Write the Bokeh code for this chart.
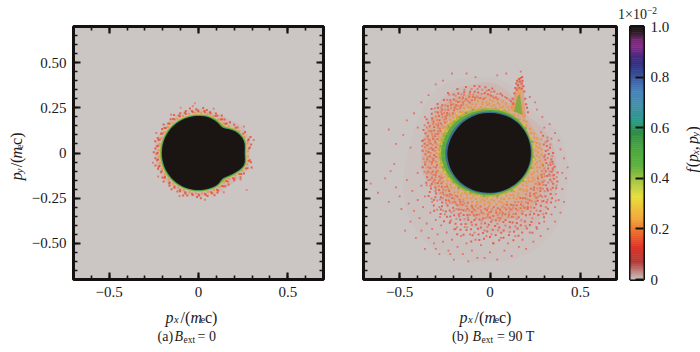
import numpy as np
from bokeh.core.properties import value
from bokeh.embed import file_html
from bokeh.resources import INLINE
from bokeh.plotting import figure
from bokeh.layouts import row, column
from bokeh.models import Range1d, LinearAxis, FixedTicker

# ---- values ----
angles_deg = list(range(0, 360, 15))

# panel (a): contour radius of f at each angle
a_core   = [.258,.262,.238,.196,.200,.205,.205,.205,.205,.205,.205,.205,.205,.205,.205,.205,.205,.205,.205,.205,.205,.196,.226,.262]
a_teal   = [.261,.265,.242,.200,.204,.208,.208,.208,.208,.208,.208,.208,.208,.208,.208,.208,.208,.208,.208,.208,.208,.200,.230,.265]
a_green  = [.265,.270,.248,.207,.210,.213,.212,.212,.212,.213,.213,.214,.214,.214,.214,.213,.212,.212,.212,.212,.212,.207,.236,.270]
a_yellow = [.268,.273,.252,.212,.214,.216,.215,.215,.215,.216,.216,.217,.217,.217,.217,.216,.215,.215,.215,.215,.216,.212,.240,.273]
a_haze   = [.285,.296,.285,.255,.245,.245,.243,.243,.243,.243,.243,.246,.246,.246,.244,.242,.240,.240,.240,.243,.248,.250,.272,.292]

# panel (a): speckle cells, as excess radius over the core and the angles where they sit
a_spk_orange = (.018, [2,11,19,28,41,50,59,68,77,86,95,104,113,122,131,140,149,158,167,176,185,194,203,212,221,230,239,248,257,266,275,284,293,302,311,320,329,338,347,356])
a_spk_red0 = (.024, [5,14,23,34,47,56,65,73,81,90,98,108,117,126,135,143,152,161,170,180,189,198,206,215,225,234,243,251,261,270,279,288,297,306,315,324,333,342,351])
a_spk_red1 = (.030, [6,15,33,46,55,63,74,82,91,99,109,118,127,136,144,153,162,171,181,190,199,207,216,226,235,244,252,262,271,280,289,298,307,316,325,334,343,352])
a_spk_red2 = (.038, [9,24,38,52,66,79,93,107,115,130,147,160,174,187,201,214,228,241,255,268,282,296,309,323,336,350])
a_spk_red3 = (.046, [17,44,58,84,101,123,141,165,179,196,219,233,250,273,291,314,330,345])
a_spk_red4 = (.056, [13,30,71,97,126,155,192,210,246,278,303,328])
a_outliers_x = [-.02, .27, -.10]
a_outliers_y = [.275, -.205, .25]

# panel (b): contour radius of f at each angle
b_core   = [.226,.226,.226,.226,.225,.222,.222,.223,.224,.226,.228,.232,.236,.235,.233,.230,.226,.222,.220,.220,.220,.222,.224,.226]
b_blue   = [.230,.230,.230,.231,.230,.229,.229,.231,.234,.237,.240,.244,.248,.246,.242,.238,.233,.228,.225,.224,.224,.226,.228,.229]
b_green  = [.236,.234,.235,.238,.240,.240,.238,.241,.247,.254,.260,.266,.270,.266,.258,.250,.242,.236,.233,.231,.231,.232,.233,.235]
b_yellow = [.243,.240,.240,.244,.248,.250,.248,.252,.260,.270,.278,.282,.284,.280,.270,.260,.252,.246,.243,.241,.240,.240,.241,.243]
b_wash1  = [.295,.285,.275,.275,.285,.305,.325,.340,.360,.370,.370,.370,.370,.370,.360,.350,.350,.360,.370,.380,.380,.370,.340,.320]
b_wash2  = [.360,.340,.312,.292,.302,.360,.390,.390,.400,.400,.390,.380,.380,.390,.380,.380,.400,.420,.440,.450,.470,.440,.420,.380]
b_wash3  = [.420,.400,.360,.330,.335,.400,.420,.430,.455,.455,.440,.440,.455,.495,.545,.590,.615,.615,.600,.600,.580,.540,.480,.450]

# spike in panel (b): outline points and single cells
spike_red_x    = [.112,.140,.150,.165,.182,.200]
spike_red_y    = [.243,.345,.395,.415,.395,.196]
spike_orange_x = [.122,.148,.168,.192]
spike_orange_y = [.235,.335,.365,.205]
spike_green_x  = [.132,.152,.165,.180]
spike_green_y  = [.230,.312,.325,.212]
spike_cell_x = [.135,.14,.145,.15,.155,.16,.165,.17,.175,.18,.185,.175,.19,.195,.20,.205,.21,.125,.13,.148,.162,.178]
spike_cell_y = [.33,.36,.385,.40,.375,.41,.395,.415,.385,.40,.37,.355,.34,.30,.27,.25,.225,.30,.27,.35,.36,.42]

# panel (b): speckle cells by radius (angles in degrees)
b_orange_rings = [
 (.252,[3,14,26,37,49,58,71,83,96,104,117,129,138,151,163,172,186,197,209,221,232,244,257,266,279,291,302,316,327,341,352]),
 (.259,[8,19,31,44,53,66,77,88,101,111,122,134,145,157,168,179,191,203,214,227,238,249,261,272,284,296,309,321,333,346,357]),
 (.266,[1,12,24,41,62,74,85,93,108,119,127,141,148,159,166,175,183,194,206,217,229,241,253,263,275,287,299,311,324,336,349]),
 (.273,[6,17,47,69,79,91,99,113,124,132,143,153,161,170,178,188,199,211,224,235,247,259,268,281,293,305,318,330,343,355]),
 (.280,[10,52,65,81,94,106,115,126,136,147,155,164,173,181,192,201,213,219,231,243,255,270,283,298,312,326,339,351]),
 (.287,[4,55,72,87,98,110,120,131,140,150,158,167,176,185,196,208,222,236,250,264,277,289,303,315,329,344,358]),
 (.294,[15,60,76,90,103,116,125,135,144,152,162,171,180,190,204,216,228,240,256,269,285,300,314,334,348]),
]
b_red_rings = [
 (.301,[9,64,82,97,112,123,133,146,156,165,174,184,193,207,218,233,246,260,274,288,304,319,332,347,356]),
 (.309,[2,18,68,84,100,109,121,130,142,154,160,169,182,195,205,223,237,251,265,278,292,306,322,337,353]),
 (.317,[7,73,89,105,118,128,139,149,163,177,187,200,212,226,239,252,267,280,294,308,320,335,350]),
 (.325,[12,78,92,107,114,125,137,152,166,175,189,202,215,230,242,254,271,286,297,313,328,342,359]),
 (.333,[5,80,95,110,122,134,147,158,171,183,198,210,225,234,248,262,276,290,301,317,331,345]),
 (.341,[349,86,101,116,129,141,155,168,179,194,206,220,238,253,268,282,295,310,325,338,354]),
 (.349,[0,91,104,119,132,144,160,173,186,203,216,229,245,258,273,284,299,307,323,340,352]),
 (.357,[346,88,108,124,138,151,165,181,197,212,227,241,256,270,287,302,316,330,343]),
 (.365,[94,113,127,142,156,172,190,208,222,236,250,264,279,293,305,320,336,348]),
 (.373,[99,118,135,149,163,178,201,217,231,247,261,275,289,304,315,328,341]),
 (.381,[103,122,139,154,170,192,211,226,243,257,271,283,298,312,327,338]),
 (.389,[110,131,146,161,205,219,235,252,266,281,294,309,322,334,344]),
 (.397,[117,137,152,213,228,240,255,269,286,300,318,331]),
 (.405,[125,143,220,233,246,259,274,288,303,314,326,337]),
 (.415,[215,229,238,251,263,277,291,306,319,332]),
 (.425,[223,236,248,261,272,285,297,311,324]),
 (.435,[231,244,256,268,280,293,308,321]),
 (.445,[226,240,253,265,278,290,301,316]),
 (.455,[236,249,262,274,287,299,313]),
 (.465,[245,258,270,283,296,310]),
 (.475,[252,266,279,292,305]),
 (.485,[248,263,276,289,302]),
 (.500,[258,272,285,298]),
]
b_red_rings2 = [
 (.305,[22,66,86,95,106,119,127,137,150,159,170,178,189,199,211,221,231,241,255,268,283,297,311,326,341,358]),
 (.313,[11,70,87,102,113,124,136,144,157,167,176,186,199,208,217,228,243,258,272,285,300,315,329,344]),
 (.321,[3,75,90,103,116,126,141,154,161,172,185,194,209,220,232,246,261,276,289,303,314,327,339,355]),
 (.329,[15,83,98,111,120,131,143,150,164,180,191,204,218,227,240,256,269,281,293,309,323,337,348]),
 (.337,[8,89,106,117,127,139,152,162,176,188,201,213,224,236,250,264,279,291,306,319,333,351]),
 (.345,[93,109,123,136,148,159,170,184,199,209,222,233,247,260,277,288,302,316,329,343,357]),
 (.353,[97,114,128,140,153,167,178,193,207,219,231,243,255,268,281,296,311,326,339,350]),
 (.361,[101,116,133,146,160,175,188,204,214,224,239,252,266,277,291,303,318,333,345]),
 (.369,[106,121,137,150,168,185,198,215,229,244,258,272,286,299,313,325,340]),
 (.377,[112,129,143,158,174,196,209,223,238,251,263,278,290,307,320,335]),
 (.393,[125,141,157,207,222,237,249,263,276,292,305,317,329,340]),
 (.410,[218,231,243,256,268,282,295,309,321,334]),
 (.430,[227,240,253,266,276,289,303,316,328]),
 (.450,[232,246,259,271,284,296,311,324]),
]
b_yellow_rings = [
 (.270,[118,127,136,146,153,161,170,177,186,194,203,212,222,233]),
 (.285,[130,143,155,168,179,190,200,210]),
 (.246,[240,256,271,288,305,322,338,352,8,22,40,76,95]),
]
b_green_rings = [
 (.258,[112,121,130,139,148,156,165,174,183,192,201,210,219,228]),
 (.241,[245,262,280,300,320,340,355,15,35,50,95,100,238]),
 (.272,[147,160,172,186,197]),
]

b_sparse_x = [-.66,-.62,-.58,-.56,-.55,-.53,-.52,-.50,-.49,-.47,-.46,-.45,-.44,-.43,-.42,-.41,-.40,-.40,-.39,-.38,-.38,-.37,-.36,-.36,-.35,-.34,-.34,-.33,-.32,-.32,-.31,-.30,-.30,-.29,-.28,-.28,-.27,-.26,-.25,-.24,-.23,-.22,-.22,-.21,-.20,-.19,-.18,-.17,-.16,-.15,-.14,-.13,-.12,-.11,-.10,-.08,-.07,-.05,-.03,-.02,.00,.02,.04,.06,.08,.10,.12,.14,.16,.18,.20,.22,.24,.26,.28,.30,.32,.34,.36,.36,.38,.39,.40,.41,.42,.40,.43,.41,.39,-.56,-.52,-.48,-.46,-.44,-.42,-.40,-.38,-.37,-.36,-.34,-.30,-.26,-.21,-.13,-.08,.04,.09,.17,.22,.26,.29,.33,.36,.38,.25,.30,.34]
b_sparse_y = [-.17,-.22,-.14,-.27,-.10,-.06,-.19,-.24,-.31,-.43,-.15,-.28,-.38,-.21,-.32,-.47,-.11,-.26,-.36,-.18,-.43,-.30,-.53,-.24,-.39,-.47,-.15,-.33,-.27,-.42,-.50,-.53,-.37,-.45,-.30,-.56,-.40,-.49,-.34,-.44,-.54,-.56,-.38,-.48,-.59,-.42,-.52,-.35,-.46,-.56,-.41,-.50,-.60,-.45,-.54,-.48,-.58,-.51,-.58,-.46,-.55,-.50,-.59,-.47,-.54,-.50,-.57,-.46,-.52,-.48,-.53,-.44,-.49,-.42,-.46,-.38,-.42,-.34,-.30,-.38,-.26,-.33,-.20,-.27,-.14,-.11,-.08,-.03,.02,.13,.05,.10,.18,.03,.22,.14,.28,.07,.20,.32,.38,.40,.44,.44,.42,.43,.44,.45,.31,.24,.20,.16,.11,.07,.28,.14,.08]

colorbar_values = [0,.03,.07,.13,.20,.24,.30,.33,.38,.45,.52,.58,.62,.68,.74,.80,.85,.88,.92,.95,.98,1.0]
colorbar_colors = ["#cbc6c3","#c08a88","#b53a35","#e0352b","#f07a30","#f5a637","#eccf3c","#e6df40","#b3cd3e","#5fb040",
                   "#4aa83f","#2f8f45","#2a9a80","#3f93a8","#4a84bd","#3c58a0","#2f3086","#452a80","#832a88","#6e2a6e","#2a1a20","#1a1513"]

x_ticks = [-0.5, 0, 0.5]
x_labels = {-0.5: "\u22120.5", 0: "0", 0.5: "0.5"}
y_ticks = [-0.5, -0.25, 0, 0.25, 0.5]
y_labels = {-0.5: "\u22120.50", -0.25: "\u22120.25", 0: "0", 0.25: "0.25", 0.5: "0.50"}
cb_ticks = [0, .2, .4, .6, .8, 1.0]
cb_labels = {0: "0", .2: "0.2", .4: "0.4", .6: "0.6", .8: "0.8", 1.0: "1.0"}

FONT = "Liberation Serif"
BG = "#cbc6c3"
INK = "#141210"
TXT = "#1a1a1a"
RED, SALMON, ORANGE, YEL, GREEN = "#e5573f", "#dd7a6a", "#eb9440", "#d8c93f", "#74ad42"
x_minor = [round(-0.7 + 0.1 * i, 1) for i in range(15)]
y_minor = [round(-0.7 + 0.05 * i, 2) for i in range(29)]

STRIP = 20                     # height of the top text strip
TOP, FRAME, BOT = 6, 253, 23   # panel row starts STRIP px down the page


def frame_fig(width, left, right):
    p = figure(width=width, height=TOP + FRAME + BOT, x_range=Range1d(-0.7, 0.7), y_range=Range1d(-0.7, 0.7),
               toolbar_location=None, output_backend="svg", x_axis_type=None, y_axis_type=None,
               min_border_left=left, min_border_right=right, min_border_top=TOP, min_border_bottom=BOT,
               background_fill_color=BG, border_fill_color="white",
               outline_line_color=INK, outline_line_width=3, outline_line_alpha=1)
    p.grid.visible = False
    return p


def style_axis(ax, labelled, overrides=None):
    ax.axis_line_color = None
    ax.major_tick_in = 7
    ax.major_tick_out = 0
    ax.minor_tick_in = 4
    ax.minor_tick_out = 0
    ax.major_tick_line_color = INK
    ax.minor_tick_line_color = INK
    ax.major_tick_line_width = 2.2
    ax.minor_tick_line_width = 1.6
    ax.major_label_text_font = FONT
    ax.major_label_text_color = TXT
    ax.major_label_text_font_size = "15px" if labelled else "0px"
    ax.major_label_standoff = 7 if labelled else 0
    if overrides and labelled:
        ax.major_label_overrides = overrides
    elif not labelled:
        ax.major_label_overrides = {k: "" for k in (x_ticks + y_ticks)}


def add_axes(p, ylabels):
    xt = FixedTicker(ticks=x_ticks, minor_ticks=x_minor)
    yt = FixedTicker(ticks=y_ticks, minor_ticks=y_minor)
    b = LinearAxis(ticker=xt); style_axis(b, True, x_labels); p.add_layout(b, "below")
    t = LinearAxis(ticker=xt); style_axis(t, False); p.add_layout(t, "above")
    l = LinearAxis(ticker=yt); style_axis(l, ylabels, y_labels); p.add_layout(l, "left")
    r = LinearAxis(ticker=yt); style_axis(r, False); p.add_layout(r, "right")


def smooth(radii):
    """Closed smooth outline through the radii read at angles_deg."""
    r = np.asarray(radii, float)
    n = len(r)
    th_out, r_out = [], []
    for i in range(n):
        p0, p1, p2, p3 = r[(i - 1) % n], r[i], r[(i + 1) % n], r[(i + 2) % n]
        for t in (0, .25, .5, .75):
            r_out.append(.5 * (2 * p1 + (p2 - p0) * t + (2 * p0 - 5 * p1 + 4 * p2 - p3) * t * t + (3 * p1 - p0 - 3 * p2 + p3) * t ** 3))
            th_out.append(np.deg2rad(angles_deg[i] + 15 * t))
    return np.array(r_out) * np.cos(th_out), np.array(r_out) * np.sin(th_out)


def band(p, radii, color, alpha=1.0):
    x, y = smooth(radii)
    p.patch(x, y, fill_color=color, fill_alpha=alpha, line_color=None)


def cells(p, x, y, color, alpha=0.9, size=2.0):
    p.scatter(x, y, marker="square", size=size, fill_color=color, fill_alpha=alpha, line_color=None)


def rings(p, groups, color, alpha=0.9, size=2.0):
    xs, ys = [], []
    for r, ang in groups:
        t = np.deg2rad(ang)
        xs.extend(r * np.cos(t))
        ys.extend(r * np.sin(t))
    cells(p, xs, ys, color, alpha, size)


def rim_cells(p, spec, color, alpha=0.9, size=2.0):
    dr, ang = spec
    t = np.deg2rad(ang)
    base = np.interp(ang, angles_deg + [360], a_core + a_core[:1])
    r = base + dr
    cells(p, r * np.cos(t), r * np.sin(t), color, alpha, size)


# ---- panel (a) ----
pa = frame_fig(327, 42, 32)
band(pa, a_haze, "#e0725e", 0.16)
rim_cells(pa, a_spk_red4, SALMON)
rim_cells(pa, a_spk_red3, RED)
rim_cells(pa, a_spk_red2, RED)
rim_cells(pa, a_spk_red1, RED)
cells(pa, a_outliers_x, a_outliers_y, SALMON, 0.7)
rim_cells(pa, a_spk_red0, RED)
band(pa, a_yellow, "#c9b840")
rim_cells(pa, a_spk_orange, ORANGE)
band(pa, a_green, "#6fb042")
band(pa, a_teal, "#2f8a72")
band(pa, a_core, "#1a1513")
add_axes(pa, True)

# ---- panel (b) ----
pb = frame_fig(267, 8, 6)
band(pb, b_wash3, "#dc7a6c", 0.05)
band(pb, b_wash2, "#e4705c", 0.10)
cells(pb, b_sparse_x, b_sparse_y, "#e6584c", 0.75, 1.8)
rings(pb, b_red_rings, RED, 0.85)
rings(pb, b_red_rings2, SALMON, 0.85)
band(pb, b_wash1, "#ea8a4c", 0.25)
pb.patch(spike_red_x, spike_red_y, fill_color="#e8684c", fill_alpha=0.35, line_color=None)
cells(pb, spike_cell_x, spike_cell_y, RED, 0.9)
rings(pb, b_orange_rings, ORANGE, 0.9)
pb.patch(spike_orange_x, spike_orange_y, fill_color="#eea040", fill_alpha=0.6, line_color=None)
band(pb, b_yellow, "#b4b03f")
rings(pb, b_yellow_rings, YEL)
pb.patch(spike_green_x, spike_green_y, fill_color="#72ac44", fill_alpha=0.85, line_color=None)
band(pb, b_green, "#5aa845")
rings(pb, b_green_rings, GREEN)
band(pb, b_blue, "#3a6f8f")
band(pb, b_core, "#1a1513")
add_axes(pb, False)

# ---- colour bar ----
grid = np.linspace(0, 1, 121)
rgb = np.array([[int(c[i:i + 2], 16) for i in (1, 3, 5)] for c in colorbar_colors], float)
mids = (grid[:-1] + grid[1:]) / 2
cols = ["#%02x%02x%02x" % tuple(int(round(np.interp(m, colorbar_values, rgb[:, k]))) for k in range(3)) for m in mids]
pc = figure(width=58, height=TOP + FRAME + BOT, x_range=Range1d(0, 1), y_range=Range1d(0, 1),
            toolbar_location=None, output_backend="svg", x_axis_type=None, y_axis_type=None,
            min_border_left=8, min_border_right=37, min_border_top=TOP, min_border_bottom=BOT,
            outline_line_color=INK, outline_line_width=3, background_fill_color=BG)
pc.grid.visible = False
pc.quad(left=0, right=1, bottom=grid[:-1], top=grid[1:], fill_color=cols, line_color=cols, line_width=0.5)
ax = LinearAxis(ticker=FixedTicker(ticks=cb_ticks))
ax.axis_line_color = None
ax.major_tick_in = 8
ax.major_tick_out = 0
ax.minor_tick_in = 0
ax.minor_tick_out = 0
ax.major_tick_line_color = INK
ax.major_tick_line_width = 2
ax.major_label_overrides = cb_labels
ax.major_label_text_font = FONT
ax.major_label_text_font_size = "15px"
ax.major_label_text_color = TXT
ax.major_label_standoff = 7
pc.add_layout(ax, "right")


# ---- text strips around the panels ----
def strip(w, h):
    s = figure(width=w, height=h, x_range=Range1d(0, w), y_range=Range1d(h, 0),
               toolbar_location=None, output_backend="svg", x_axis_type=None, y_axis_type=None,
               min_border=0, outline_line_color=None, background_fill_color="white", border_fill_color="white")
    s.grid.visible = False
    return s


def put(s, x, y, text, size=15.5, style="normal", angle=0.0):
    s.text([x], [y], text=[text], text_font=value(FONT), text_font_size=f"{size}px", text_font_style=style,
           text_color=TXT, text_align="left", text_baseline="alphabetic", angle=angle)


top_strip = strip(700, STRIP)
put(top_strip, 617.5, 14, "1\u00d710", 14)
put(top_strip, 646.5, 9.5, "\u22122", 9.5)

Y0 = STRIP + TOP + FRAME + BOT
bot_strip = strip(700, 352 - Y0)
for dx in (0, 294):
    put(bot_strip, 165 + dx, 317 - Y0, "p", 16, "italic")
    put(bot_strip, 173.5 + dx, 319 - Y0, "x", 10.5, "italic")
    put(bot_strip, 180 + dx, 317 - Y0, "/(", 16)
    put(bot_strip, 190 + dx, 317 - Y0, "m", 16, "italic")
    put(bot_strip, 200 + dx, 319 - Y0, "e", 10.5)
    put(bot_strip, 204.5 + dx, 317 - Y0, "c)", 16)
put(bot_strip, 157, 336 - Y0, "(a)", 14)
put(bot_strip, 174, 336 - Y0, "B", 14, "italic")
put(bot_strip, 183, 339 - Y0, "ext", 9.5)
put(bot_strip, 197, 336 - Y0, "= 0", 14)
put(bot_strip, 451.5, 336 - Y0, "(b)", 14)
put(bot_strip, 472, 336 - Y0, "B", 14, "italic")
put(bot_strip, 481, 339 - Y0, "ext", 9.5)
put(bot_strip, 496.5, 336 - Y0, "= 90 T", 14)

rot = np.pi / 2
H = TOP + FRAME + BOT
ROT_SHIFT = 10 - STRIP
left_strip = strip(28, H)
put(left_strip, 16, 181.5 + ROT_SHIFT, "p", 16, "italic", rot)
put(left_strip, 19, 173.5 + ROT_SHIFT, "y", 10.5, "italic", rot)
put(left_strip, 16, 167 + ROT_SHIFT, "/(", 16, "normal", rot)
put(left_strip, 16, 157 + ROT_SHIFT, "m", 16, "italic", rot)
put(left_strip, 19, 146.5 + ROT_SHIFT, "e", 10.5, "normal", rot)
put(left_strip, 16, 142 + ROT_SHIFT, "c)", 16, "normal", rot)

right_strip = strip(20, H)
X0 = 680
put(right_strip, 692 - X0, 173 + ROT_SHIFT, "f", 16, "italic", rot)
put(right_strip, 692 - X0, 167 + ROT_SHIFT, "(", 16, "normal", rot)
put(right_strip, 692 - X0, 161 + ROT_SHIFT, "p", 16, "italic", rot)
put(right_strip, 695 - X0, 153 + ROT_SHIFT, "x", 10.5, "italic", rot)
put(right_strip, 692 - X0, 148 + ROT_SHIFT, ",", 16, "normal", rot)
put(right_strip, 692 - X0, 141 + ROT_SHIFT, "p", 16, "italic", rot)
put(right_strip, 695 - X0, 133 + ROT_SHIFT, "y", 10.5, "italic", rot)
put(right_strip, 692 - X0, 127 + ROT_SHIFT, ")", 16, "normal", rot)

layout = column(top_strip, row(left_strip, pa, pb, pc, right_strip, spacing=0), bot_strip, spacing=0)
open("out.html", "w").write(file_html(layout, INLINE))
